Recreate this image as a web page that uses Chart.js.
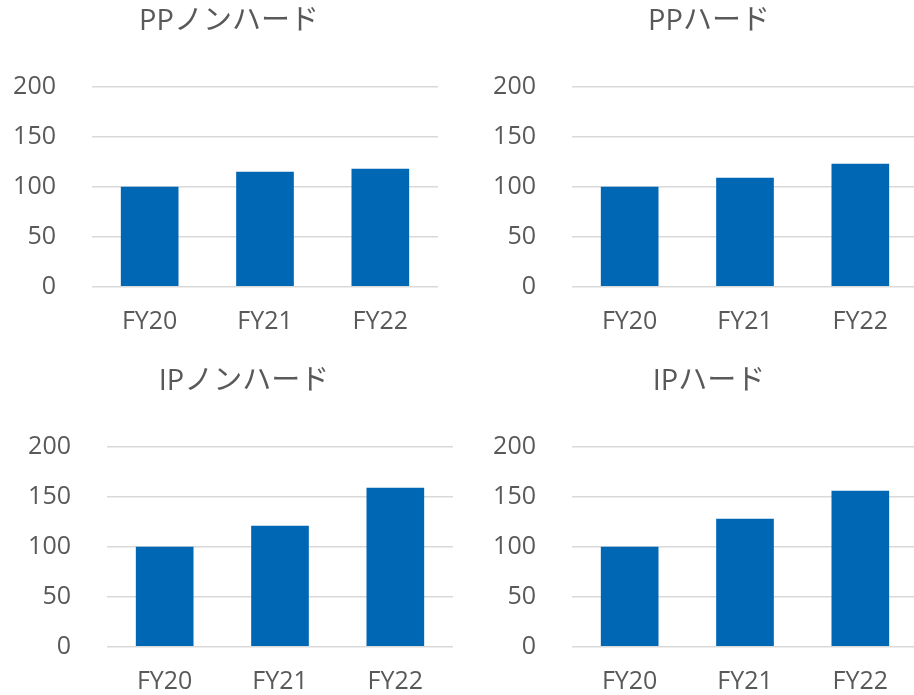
<!DOCTYPE html>
<html lang="ja">
<head>
<meta charset="utf-8">
<script src="https://cdn.jsdelivr.net/npm/chart.js@4/dist/chart.umd.min.js"></script>
<style>
  html, body { margin: 0; padding: 0; background: #ffffff; }
  body { width: 914px; height: 695px; overflow: hidden; position: relative; }
  .panel { position: absolute; width: 457px; height: 350px; }
</style>
</head>
<body>
<div class="panel" style="left:0px;top:0px"><canvas id="c1" width="457" height="350"></canvas></div>
<div class="panel" style="left:480px;top:0px"><canvas id="c2" width="457" height="350"></canvas></div>
<div class="panel" style="left:15px;top:360px"><canvas id="c3" width="457" height="350"></canvas></div>
<div class="panel" style="left:480px;top:360px"><canvas id="c4" width="457" height="350"></canvas></div>
<script>
// Fiscal years shown on every panel
const categories = ['FY20', 'FY21', 'FY22'];

// Index values (FY20 = 100)
const ppNonHard = [100, 115, 118];
const ppHard    = [100, 109, 123];
const ipNonHard = [100, 121, 159];
const ipHard    = [100, 128, 156];

const panelTitles = ['PPノンハード', 'PPハード', 'IPノンハード', 'IPハード'];

// Value axis range
const yMin = 0;
const yMax = 200;
const yStep = 50;

const TEXT = '#595959';
const GRID = '#d9d9d9';
const BAR = '#0067b4';
const FONT = '"Open Sans", "Noto Sans CJK JP", sans-serif';

// Centre the title over the whole panel rather than the padded chart box
const titleCentre = {
  id: 'titleCentre',
  afterLayout(chart) {
    if (chart.titleBlock) {
      chart.titleBlock.left = 20;
    }
  }
};

function makeChart(id, title, values) {
  return new Chart(document.getElementById(id), {
    type: 'bar',
    data: {
      labels: categories,
      datasets: [{
        data: values,
        backgroundColor: BAR,
        borderWidth: 0,
        categoryPercentage: 1.0,
        barPercentage: 0.5
      }]
    },
    plugins: [titleCentre],
    options: {
      responsive: false,
      devicePixelRatio: 1,
      animation: false,
      events: [],
      layout: { padding: { left: 0, right: 19, top: 0, bottom: 0 } },
      plugins: {
        legend: { display: false },
        tooltip: { enabled: false },
        title: {
          display: true,
          text: title,
          color: TEXT,
          font: { family: FONT, size: 29, weight: 'normal', lineHeight: 1.2 },
          padding: { top: 4, bottom: 47.9 }
        }
      },
      scales: {
        x: {
          grid: { display: false, drawTicks: false },
          border: { display: false },
          ticks: {
            color: TEXT,
            padding: 20,
            font: { family: FONT, size: 25, lineHeight: 1.2 }
          },
          afterFit(scale) { scale.height = 63.3; }
        },
        y: {
          min: yMin,
          max: yMax,
          ticks: {
            stepSize: yStep,
            color: TEXT,
            padding: 36,
            font: { family: FONT, size: 25 }
          },
          grid: { color: GRID, lineWidth: 1.5, drawTicks: false },
          border: { display: false },
          afterFit(scale) { scale.width = 92; }
        }
      }
    }
  });
}

makeChart('c1', panelTitles[0], ppNonHard);
makeChart('c2', panelTitles[1], ppHard);
makeChart('c3', panelTitles[2], ipNonHard);
makeChart('c4', panelTitles[3], ipHard);
</script>
</body>
</html>
